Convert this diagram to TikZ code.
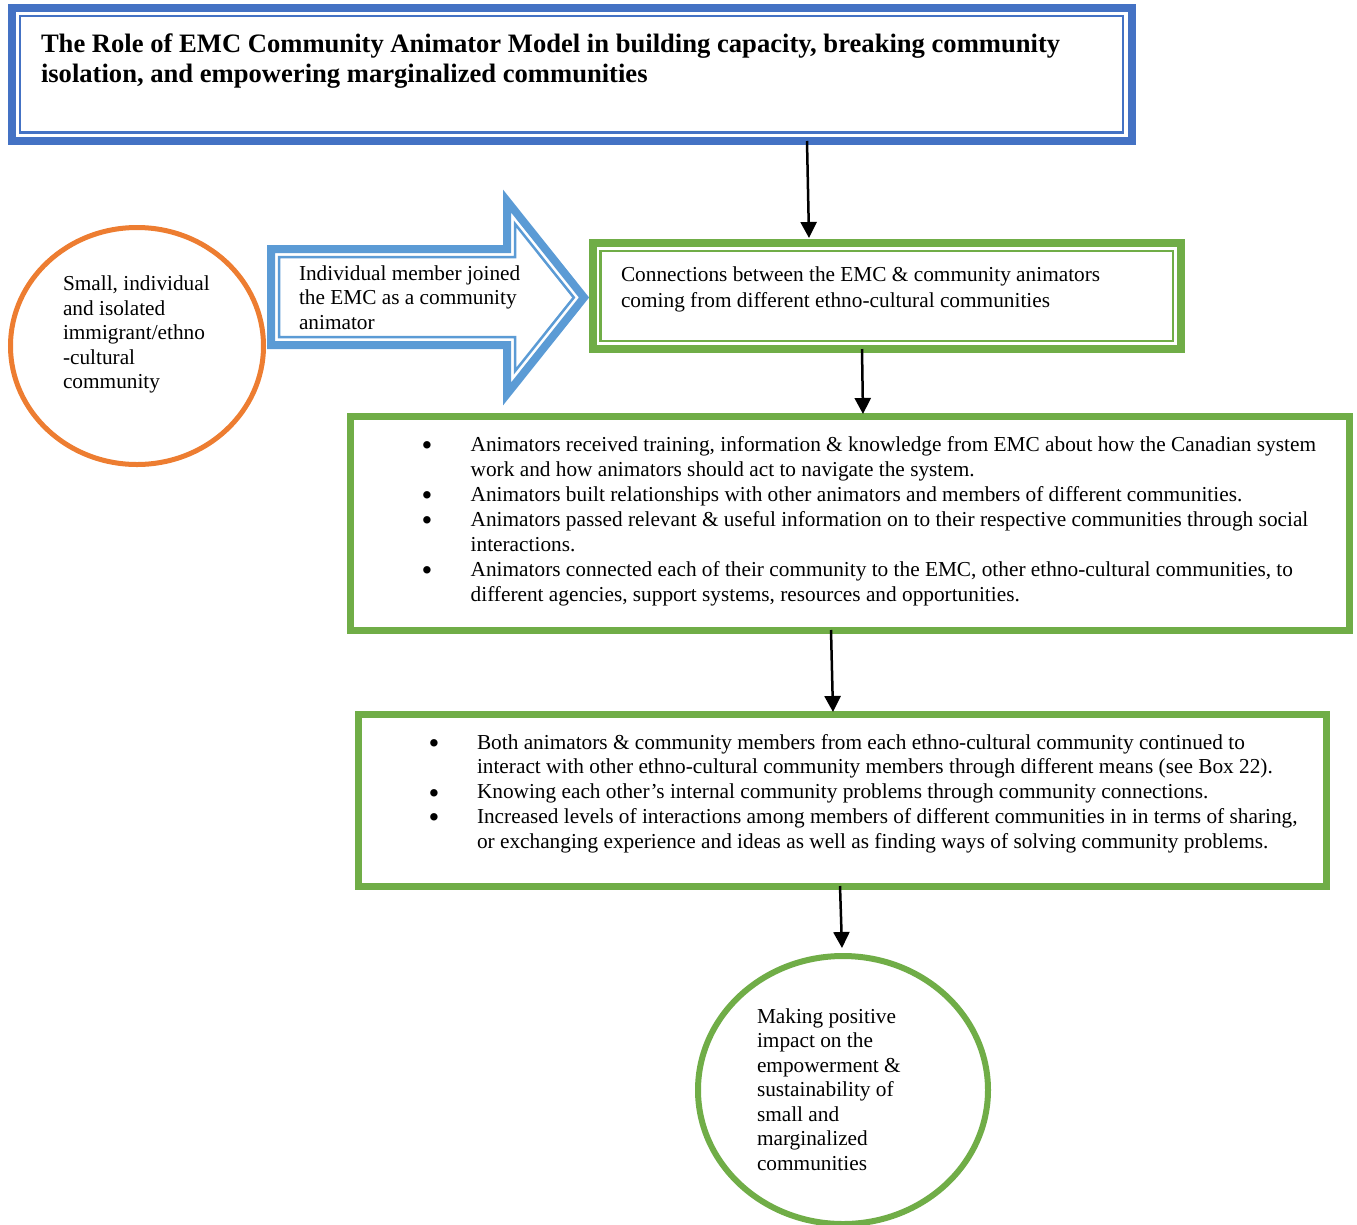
\documentclass[tikz,border=0pt]{standalone}
\usepackage{fontspec}
\setmainfont{Liberation Serif}
\usetikzlibrary{arrows.meta,shapes.geometric}
\definecolor{tblue}{HTML}{4472C4}
\definecolor{ablue}{HTML}{5B9BD5}
\definecolor{egreen}{HTML}{70AD47}
\definecolor{eorange}{HTML}{ED7D31}
\newcommand{\bulA}{\makebox[49.7pt][l]{\hspace{0.5pt}\raisebox{-4.5pt}[0pt][0pt]{\scalebox{1.45}{\textbullet}}}}
\newcommand{\indA}{\hspace*{49.7pt}}
\newcommand{\bulB}{\makebox[50pt][l]{\hspace{1.5pt}\raisebox{-4.5pt}[0pt][0pt]{\scalebox{1.45}{\textbullet}}}}
\newcommand{\indB}{\hspace*{50pt}}
\begin{document}
\begin{tikzpicture}[x=1pt,y=-1pt,
  txt/.style={inner sep=0pt, outer sep=0pt, anchor=north west, align=left, font=\fontsize{21.3}{24.5}\selectfont},
  boxshape/.style={rectangle, inner sep=0pt, outer sep=0pt, fill=white},
  thin/.style={line width=2.5pt},
  conn/.style={-{Triangle[width=16pt,length=16pt]}, line width=2.5pt, black},
  line join=miter]
\useasboundingbox (0,0) rectangle (1357,1224);

% title box (thick-thin double border)
\node[boxshape, draw=tblue, line width=8pt, minimum width=1120pt, minimum height=133pt] (tbox) at (571.5,74.5) {};
\draw[tblue, thin] ([xshift=8.5pt,yshift=-8pt]tbox.north west) rectangle ([xshift=-8.5pt,yshift=8.5pt]tbox.south east);
\node[txt, font=\bfseries\fontsize{26.6}{30}\selectfont] (ttl) at (41,30)
  {\rule{0pt}{22pt}The Role of EMC Community Animator Model in building capacity, breaking community\\isolation, and empowering marginalized communities};

% orange circle
\node[ellipse, draw=eorange, line width=5pt, minimum width=253pt, minimum height=237pt, inner sep=0pt, fill=white] (orng) at (137,346) {};
\node[txt] (orngtxt) at (63,272.7)
  {\rule{0pt}{18pt}Small, individual\\and isolated\\immigrant/ethno\\-cultural\\community};

% blue block arrow
\draw[ablue, line width=8pt, fill=white] (271,249) -- (507,249) -- (507,201) -- (584,297.5) -- (507,394) -- (507,345) -- (271,345) -- cycle;
\draw[ablue, thin] (279,257) -- (515,257) -- (515,223.9) -- (573.8,297.5) -- (515,371.1) -- (515,337) -- (279,337) -- cycle;
\node[txt] (arrtxt) at (299,262)
  {\rule{0pt}{18pt}Individual member joined\\the EMC as a community\\animator};

% green box 1 (double)
\node[boxshape, draw=egreen, line width=8pt, minimum width=588.5pt, minimum height=106pt] (box1) at (886.75,296) {};
\draw[egreen, thin] ([xshift=8pt,yshift=-8pt]box1.north west) rectangle ([xshift=-8pt,yshift=8pt]box1.south east);
\node[txt, font=\fontsize{21.3}{26}\selectfont] (b1txt) at (621,263)
  {\rule{0pt}{18pt}Connections between the EMC \& community animators\\coming from different ethno-cultural communities};

% green box 2
\node[boxshape, draw=egreen, line width=7pt, minimum width=998.5pt, minimum height=213.5pt] (box2) at (849.75,523.25) {};
\node[txt, font=\fontsize{21.3}{25}\selectfont] (b2txt) at (421,433)
  {\rule{0pt}{18pt}\bulA Animators received training, information \& knowledge from EMC about how the Canadian system\\
   \indA work and how animators should act to navigate the system.\\
   \bulA Animators built relationships with other animators and members of different communities.\\
   \bulA Animators passed relevant \& useful information on to their respective communities through social\\
   \indA interactions.\\
   \bulA Animators connected each of their community to the EMC, other ethno-cultural communities, to\\
   \indA different agencies, support systems, resources and opportunities.};

% green box 3
\node[boxshape, draw=egreen, line width=7pt, minimum width=967.5pt, minimum height=171.5pt] (box3) at (842.25,800.25) {};
\node[txt, font=\fontsize{21.3}{24.75}\selectfont] (b3txt) at (427,731)
  {\rule{0pt}{18pt}\bulB Both animators \& community members from each ethno-cultural community continued to\\
   \indB interact with other ethno-cultural community members through different means (see Box 22).\\
   \bulB Knowing each other’s internal community problems through community connections.\\
   \bulB Increased levels of interactions among members of different communities in in terms of sharing,\\
   \indB or exchanging experience and ideas as well as finding ways of solving community problems.};

% green circle
\node[ellipse, draw=egreen, line width=6pt, minimum width=290pt, minimum height=268pt, inner sep=0pt, fill=white] (goal) at (843,1090) {};
\node[txt] (goaltxt) at (757,1005.3)
  {\rule{0pt}{18pt}Making positive\\impact on the\\empowerment \&\\sustainability of\\small and\\marginalized\\communities};

% connectors
\draw[conn] ([xshift=235.5pt]tbox.south) -- ([xshift=-77.75pt,yshift=5pt]box1.north);
\draw[conn] ([xshift=-24.75pt]box1.south) -- ([xshift=13.25pt,yshift=2.5pt]box2.north);
\draw[conn] ([xshift=-18.75pt]box2.south) -- ([xshift=-9.25pt,yshift=2.5pt]box3.north);
\draw[conn] ([xshift=-2.25pt]box3.south) -- ([xshift=-1pt,yshift=5pt]goal.north);
\end{tikzpicture}
\end{document}
